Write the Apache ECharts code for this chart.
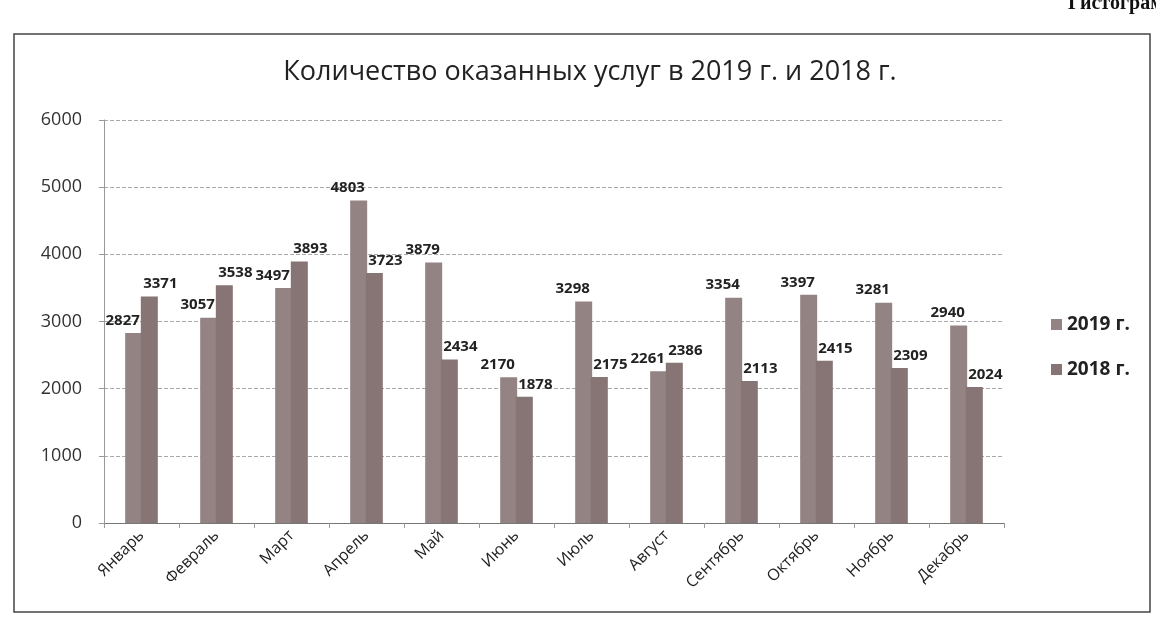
<!DOCTYPE html>
<html>
<head>
<meta charset="utf-8">
<script src="https://cdn.jsdelivr.net/npm/echarts@6/dist/echarts.min.js"></script>
<style>
html,body{margin:0;padding:0;background:#fff;}
#chart{width:1156px;height:638px;}
</style>
</head>
<body>
<div id="chart"></div>
<script>
const months = ['Январь','Февраль','Март','Апрель','Май','Июнь','Июль','Август','Сентябрь','Октябрь','Ноябрь','Декабрь'];
const series2019 = [2827, 3057, 3497, 4803, 3879, 2170, 3298, 2261, 3354, 3397, 3281, 2940];
const series2018 = [3371, 3538, 3893, 3723, 2434, 1878, 2175, 2386, 2113, 2415, 2309, 2024];
const seriesNames = ['2019 г.', '2018 г.'];
const yTicks = {min: 0, max: 6000, interval: 1000};

const chart = echarts.init(document.getElementById('chart'), null, {renderer: 'canvas'});
const labelStyle = {show: true, position: 'top', color: '#222', fontFamily: 'Open Sans', fontSize: 15, fontWeight: 'bold'};
chart.setOption({
  backgroundColor: '#fff',
  animation: false,
  title: {
    text: 'Количество оказанных услуг в 2019 г. и 2018 г.',
    left: 585, top: 54, textAlign: 'center',
    textStyle: {fontFamily: 'Open Sans', fontSize: 27, fontWeight: 'normal', color: '#222'}
  },
  graphic: [
    {type: 'rect', shape: {x: 14, y: 34, width: 1136, height: 578}, style: {fill: 'none', stroke: '#444', lineWidth: 1.5}, silent: true},
    {type: 'text', left: 1068, top: -6, style: {text: 'Гистограмма', font: 'bold 20px "Liberation Serif"', fill: '#111'}, silent: true}
  ],
  legend: {
    orient: 'vertical', left: 1046, top: 310, itemGap: 26,
    itemWidth: 11, itemHeight: 11, icon: 'rect',
    textStyle: {fontFamily: 'Open Sans', fontSize: 19, fontWeight: 'bold', color: '#222'},
    data: seriesNames
  },
  grid: {left: 104, right: 152, top: 120, bottom: 115, containLabel: false},
  xAxis: {
    type: 'category', data: months,
    axisLine: {lineStyle: {color: '#777'}},
    axisTick: {show: true, alignWithLabel: false, lineStyle: {color: '#999'}},
    axisLabel: {rotate: 45, interval: 0, margin: 10, fontFamily: 'Open Sans', fontSize: 16, color: '#222'}
  },
  yAxis: {
    type: 'value', min: yTicks.min, max: yTicks.max, interval: yTicks.interval,
    axisLine: {show: true, lineStyle: {color: '#999'}},
    axisTick: {show: true, lineStyle: {color: '#999'}},
    axisLabel: {margin: 22, fontFamily: 'Open Sans', fontSize: 18, color: '#333', formatter: v => String(v)},
    splitLine: {lineStyle: {color: '#aaa', type: 'dashed', width: 1}}
  },
  series: [
    {name: seriesNames[0], type: 'bar', data: series2019, barWidth: 17, barGap: '-8%',
     itemStyle: {color: '#948383'}, label: Object.assign({}, labelStyle, {offset: [-11, 0]})},
    {name: seriesNames[1], type: 'bar', data: series2018, barWidth: 17,
     itemStyle: {color: '#877474'}, label: Object.assign({}, labelStyle, {offset: [11, 0]})}
  ]
});
</script>
</body>
</html>
